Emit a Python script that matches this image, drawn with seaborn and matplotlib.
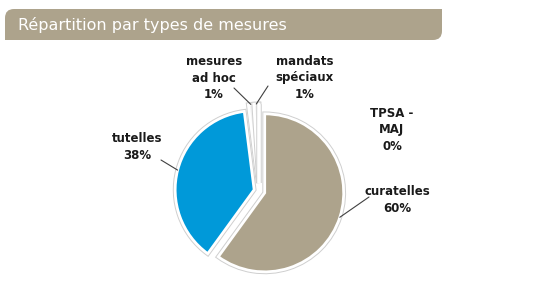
import numpy as np
import matplotlib
matplotlib.use("Agg")
import matplotlib.pyplot as plt
import seaborn as sns
from matplotlib.path import Path
from matplotlib.patches import PathPatch
import matplotlib.patheffects as pe

sns.set_theme(style="white")
plt.rcParams['font.family'] = ['DejaVu Sans']

# ---- data ----
categories = ["curatelles", "tutelles", "mesures\nad hoc", "mandats\nspéciaux", "TPSA -\nMAJ"]
values = [60, 38, 1, 1, 0.001]
pct_labels = ["60%", "38%", "1%", "1%", "0%"]
title = "Répartition par types de mesures"

colors = ["#ada38c", "#0099d9", "#f2f2f2", "#f2f2f2", "#f2f2f2"]
explode = [6, 5, 8, 8, 8]  # pixels

W, H = 550, 300
fig = plt.figure(figsize=(W / 100, H / 100), dpi=100)
ax = fig.add_axes([0, 0, 1, 1])

def Y(ypx):
    return H - ypx

cx, cy, R = 259, Y(191), 79
wedges, _ = ax.pie(values, colors=colors, startangle=90, counterclock=False,
                   radius=R, center=(cx, cy), explode=explode,
                   wedgeprops=dict(edgecolor="white", linewidth=2))
for w in wedges:
    w.set_path_effects([pe.Stroke(linewidth=3.4, foreground="#cfcfcf"), pe.Normal()])

ax.set_xlim(0, W)
ax.set_ylim(0, H)
ax.set_aspect("equal")
ax.axis("off")

# title banner (rounded top-left and bottom-right corners)
x0, x1, y0, y1, r = 5, 442, Y(40), Y(9), 9
verts = [(x0, y0), (x1 - r, y0), (x1, y0), (x1, y0 + r), (x1, y1), (x0 + r, y1),
         (x0, y1), (x0, y1 - r), (x0, y0)]
codes = [Path.MOVETO, Path.LINETO, Path.CURVE3, Path.CURVE3, Path.LINETO, Path.LINETO,
         Path.CURVE3, Path.CURVE3, Path.CLOSEPOLY]
ax.add_patch(PathPatch(Path(verts, codes), facecolor="#ada38c", edgecolor="none"))
ax.text(18, Y(25), title, color="white", fontsize=11.5, va="center", ha="left")

# labels (text block centres, pixel coordinates)
label_pos = [(397, 200), (137, 147), (214, 78), (305, 78), (392, 130)]
has_line = [True, True, True, True, False]
line_start = [(369, 197), (161, 160), (234, 88), (268, 86), None]

for i, w in enumerate(wedges):
    txt = f"{categories[i]}\n{pct_labels[i]}"
    lx, ly = label_pos[i]
    ax.text(lx, Y(ly), txt, ha="center", va="center", fontsize=8.5,
            color="#1a1a1a", linespacing=1.35, fontweight="semibold")
    if has_line[i]:
        ang = np.deg2rad((w.theta1 + w.theta2) / 2)
        ex = w.center[0] + w.r * np.cos(ang)
        ey = w.center[1] + w.r * np.sin(ang)
        sx, sy = line_start[i]
        ax.plot([sx, ex], [Y(sy), ey], color="#404040", lw=0.8)

fig.savefig("out.png", dpi=100)
